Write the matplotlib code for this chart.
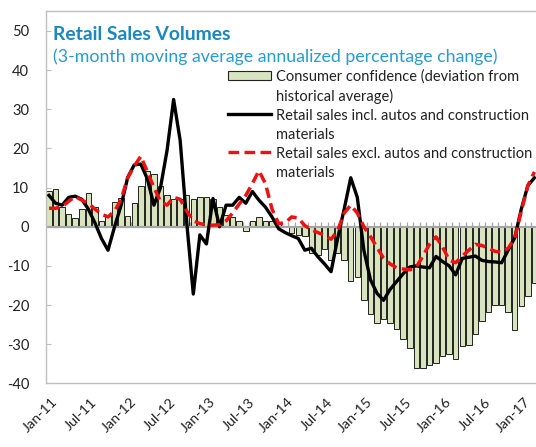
import matplotlib
matplotlib.use('Agg')
import matplotlib.pyplot as plt
import numpy as np
import pandas as pd
from matplotlib.patches import Rectangle
from matplotlib.lines import Line2D
from matplotlib.transforms import ScaledTranslation

plt.rcParams['font.family'] = ['Lato', 'DejaVu Sans']

# ---------------- data ----------------
months = pd.date_range('2011-01-01', '2017-03-01', freq='MS')

confidence = [9.0, 9.6, 5.0, 3.3, 2.2, 4.5, 8.7, 5.1, 1.4, 3.0,
              6.4, 7.4, 2.8, 6.1, 10.3, 14.2, 13.5, 10.3, 8.0, 7.2,
              7.0, 8.0, 7.2, 7.7, 7.7, 7.0, 5.0, 3.0, 2.6, 1.5,
              -1.2, 1.5, 2.5, 1.5, 1.4, 0.8, 0.3, -1.5, -2.2, -2.5,
              -6.6, -7.1, -5.8, -8.4, -6.7, -8.4, -13.9, -12.8, -18.7, -22.4,
              -24.5, -23.7, -24.5, -26.2, -28.8, -30.9, -36.2, -36.0, -35.3, -34.8,
              -32.9, -32.6, -33.9, -30.5, -30.3, -27.4, -24.0, -21.8, -20.1, -19.9,
              -21.8, -26.5, -20.2, -17.7, -14.3]

retail_incl = [8.0, 6.0, 5.5, 7.5, 7.8, 7.0, 4.5, 1.0, -3.0, -6.0,
               0.0, 5.5, 12.6, 15.8, 16.0, 12.2, 5.5, 10.0, 19.5, 32.5,
               22.0, 1.0, -17.2, -2.1, -4.4, 7.2, 0.0, 5.5, 5.5, 7.5,
               6.0, 9.0, 6.8, 5.0, 2.5, -0.5, -1.5, -2.3, -3.0, -6.0,
               -5.5, -7.7, -9.5, -11.5, -3.0, 4.5, 12.5, 7.5, -6.0, -13.5,
               -17.0, -18.8, -16.0, -14.0, -12.0, -10.3, -10.0, -10.3, -10.5, -7.6,
               -8.9, -10.0, -12.3, -8.1, -7.8, -7.5, -8.6, -8.9, -9.0, -9.2,
               -6.0, -2.8, 4.5, 10.5, 12.5]

retail_excl = [4.7, 4.7, 5.1, 6.5, 7.7, 6.8, 6.0, 4.5, 3.2, 2.5,
               4.0, 7.0, 12.5, 15.5, 18.0, 14.0, 10.0, 6.5, 5.5, 7.5,
               7.0, 4.0, 1.5, 0.8, 0.4, 0.4, 0.5, 1.5, 3.5, 5.8,
               8.0, 11.0, 14.3, 11.0, 4.5, 0.8, 1.0, 2.5, 2.2, 0.3,
               -0.8, -1.5, -2.2, -3.2, -1.0, 3.5, 5.5, 3.5, 0.0, -2.5,
               -5.3, -8.0, -9.5, -10.5, -10.8, -11.0, -10.3, -7.5, -4.5, -2.6,
               -5.2, -8.5, -9.2, -7.5, -6.0, -4.5, -4.8, -5.5, -6.3, -6.5,
               -5.5, -3.0, 4.0, 10.5, 14.0]

tick_labels = ['Jan-11', 'Jul-11', 'Jan-12', 'Jul-12', 'Jan-13', 'Jul-13',
               'Jan-14', 'Jul-14', 'Jan-15', 'Jul-15', 'Jan-16', 'Jul-16', 'Jan-17']
y_ticks = [-40, -30, -20, -10, 0, 10, 20, 30, 40, 50]

legend_labels = ['Consumer confidence (deviation from\nhistorical average)',
                 'Retail sales incl. autos and construction\nmaterials',
                 'Retail sales excl. autos and construction\nmaterials']

title = 'Retail Sales Volumes'
subtitle = '(3-month moving average annualized percentage change)'

# ---------------- style ----------------
W, H = 536, 447
BAR_GREEN = '#D7E4BD'
GRAY = '#BFBFBF'
TITLE_BLUE = '#1789C0'
SUB_BLUE = '#2A9AD2'
RED = '#EE1111'

fig = plt.figure(figsize=(W / 100, H / 100), dpi=100)

def fx(px):
    return px / W

def fy(py):
    return 1 - py / H

x = np.arange(len(months))
ax_left = 45.7
ax_right = ax_left + 6.56 * len(months)
ax_top, ax_bot = 11.4, 383.3
ax = fig.add_axes([fx(ax_left), fy(ax_bot), (ax_right - ax_left) / W, (ax_bot - ax_top) / H])

ax.bar(x, confidence, width=0.84, color=BAR_GREEN, edgecolor='#222222', linewidth=0.7, zorder=2)
ax.vlines(np.arange(-0.5, len(months), 1.0), 0, 1.1, color='#A6A6A6', lw=0.9, zorder=1)
ax.axhline(0, color='#A6A6A6', lw=1.6, zorder=2.5)
ax.plot(x, retail_incl, color='black', lw=2.4, solid_joinstyle='round', zorder=3)
ax.plot(x, retail_excl, color=RED, lw=2.5, dashes=(3.0, 1.6), zorder=4)

ax.set_xlim(-0.5, len(months) - 0.5)
ax.set_ylim(-40, 55)
ax.set_yticks(y_ticks)
ax.set_yticklabels([str(v) for v in y_ticks], fontsize=10.5, color='#222222')
ax.tick_params(axis='y', direction='in', length=3.5, width=0.8, color=GRAY, pad=12)

tick_pos = [i for i, m in enumerate(months) if m.month in (1, 7)]
ax.set_xticks(tick_pos)
ax.set_xticklabels(tick_labels, rotation=45, ha='right', rotation_mode='anchor',
                   fontsize=10.3, color='#222222')
ax.tick_params(axis='x', length=0, pad=9)
for lab in ax.get_xticklabels():
    lab.set_transform(lab.get_transform() + ScaledTranslation(2.5 / 100, 0, fig.dpi_scale_trans))

for side in ['left', 'top', 'bottom', 'right']:
    ax.spines[side].set_color(GRAY)
    ax.spines[side].set_linewidth(1.0)

# titles
fig.text(fx(53), fy(39.5), title, fontsize=13.9, fontweight='bold', color=TITLE_BLUE, va='baseline')
fig.text(fx(53), fy(62), subtitle, fontsize=12.8, color=SUB_BLUE, va='baseline')

# legend (manual, Excel style)
hx0, hx1 = 228, 271
tx = 276
line_y = [75.5, 95, 114, 133.3, 152.3, 171.7]
fig.add_artist(Rectangle((fx(hx0), fy(79.5)), (hx1 - hx0) / W, 8 / H, transform=fig.transFigure,
                         facecolor=BAR_GREEN, edgecolor='#222222', linewidth=0.8))
fig.add_artist(Line2D([fx(hx0), fx(hx1)], [fy(line_y[2]), fy(line_y[2])], transform=fig.transFigure,
                      color='black', lw=2.4))
fig.add_artist(Line2D([fx(hx0), fx(hx1)], [fy(line_y[4]), fy(line_y[4])], transform=fig.transFigure,
                      color=RED, lw=2.4, dashes=(3.2, 1.6)))
lines_text = []
for lab in legend_labels:
    lines_text.extend(lab.split('\n'))
for t, yy in zip(lines_text, line_y):
    fig.text(fx(tx), fy(yy), t, fontsize=10.55, color='#222222', va='center_baseline')

fig.savefig('out.png', dpi=100)
